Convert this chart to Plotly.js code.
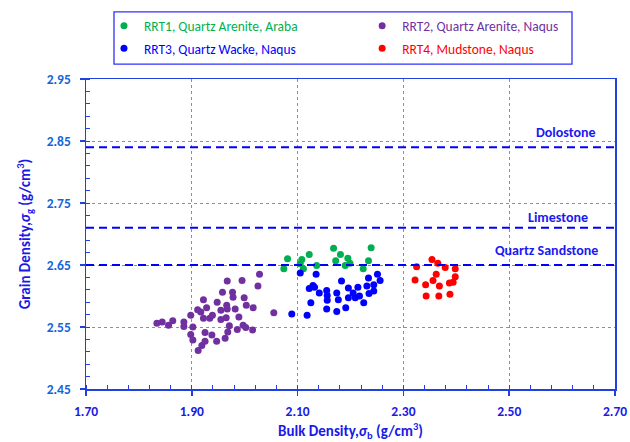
<!DOCTYPE html>
<html>
<head>
<meta charset="utf-8">
<script src="https://cdn.plot.ly/plotly-3.0.1.min.js"></script>
<style>html,body{margin:0;padding:0;background:#fff;}#chart{width:630px;height:442px;}</style>
</head>
<body>
<div id="chart"></div>
<script>
// ---- Data ----
const rrt1Name = "RRT1, Quartz Arenite, Araba";
const rrt1X = [2.074,2.081,2.108,2.105,2.111,2.122,2.136,2.168,2.181,2.172,2.195,2.190,2.199,2.224,2.234,2.239];
const rrt1Y = [2.644,2.660,2.659,2.652,2.644,2.667,2.649,2.677,2.667,2.657,2.661,2.649,2.653,2.644,2.657,2.678];

const rrt2Name = "RRT2, Quartz Arenite, Naqus";
const rrt2X = [1.834,1.844,1.856,1.864,1.885,1.885,1.898,1.902,1.898,1.902,1.912,1.919,1.925,1.925,1.938,1.947,1.963,1.968,1.971,1.986,1.997,2.002,2.015,1.922,1.911,1.917,1.928,1.922,1.934,1.939,1.948,1.955,1.955,1.965,1.966,1.967,1.958,1.967,1.977,1.978,1.982,1.989,1.995,1.999,2.003,2.016,2.025,2.028,2.055];
const rrt2Y = [2.556,2.558,2.553,2.560,2.558,2.551,2.569,2.550,2.538,2.529,2.512,2.520,2.527,2.541,2.537,2.527,2.532,2.542,2.552,2.546,2.553,2.549,2.545,2.594,2.578,2.574,2.581,2.564,2.564,2.569,2.590,2.577,2.562,2.565,2.585,2.579,2.606,2.624,2.606,2.598,2.579,2.566,2.625,2.597,2.585,2.581,2.616,2.635,2.573];

const rrt3Name = "RRT3, Quartz Wacke, Naqus";
const rrt3X = [2.105,2.135,2.122,2.129,2.132,2.141,2.125,2.089,2.118,2.155,2.156,2.156,2.155,2.174,2.177,2.174,2.183,2.196,2.196,2.191,2.205,2.209,2.214,2.217,2.225,2.231,2.234,2.244,2.251,2.256,2.235,2.244];
const rrt3Y = [2.637,2.635,2.612,2.617,2.614,2.605,2.589,2.571,2.569,2.609,2.601,2.593,2.579,2.605,2.594,2.575,2.624,2.613,2.597,2.581,2.605,2.597,2.614,2.600,2.589,2.616,2.629,2.618,2.635,2.625,2.604,2.608];

const rrt4Name = "RRT4, Mudstone, Naqus";
const rrt4X = [2.325,2.354,2.365,2.379,2.398,2.362,2.398,2.356,2.322,2.342,2.368,2.394,2.387,2.343,2.367,2.388];
const rrt4Y = [2.647,2.659,2.653,2.646,2.644,2.635,2.631,2.625,2.626,2.618,2.616,2.622,2.621,2.600,2.600,2.603];

// Reference grain densities
const refNames = ["Dolostone","Limestone","Quartz Sandstone"];
const refValues = [2.84, 2.71, 2.65];

// Axis ticks
const xTicks = [1.70,1.90,2.10,2.30,2.50,2.70];
const yTicks = [2.45,2.55,2.65,2.75,2.85,2.95];

// ---- Styling ----
const FONT = "Carlito, Calibri, Lato, 'Open Sans', sans-serif";
const colors = {rrt1:"#00b050", rrt2:"#7030a0", rrt3:"#0000ff", rrt4:"#ff0000"};
const axisBlue = "#2040e0";
const gridBlue = "#6f8fe8";

function tr(x, y, name, color, legend, group) {
  return {
    type: "scatter", mode: "markers", x: x, y: y,
    name: '<span style="color:' + color + '">' + name + '</span>',
    legend: legend, legendgroup: group,
    marker: {color: color, size: 7, line: {width: 0}},
    hoverinfo: "x+y"
  };
}

const data = [
  tr(rrt1X, rrt1Y, rrt1Name, colors.rrt1, "legend", "g1"),
  tr(rrt3X, rrt3Y, rrt3Name, colors.rrt3, "legend", "g3"),
  tr(rrt2X, rrt2Y, rrt2Name, colors.rrt2, "legend2", "g2"),
  tr(rrt4X, rrt4Y, rrt4Name, colors.rrt4, "legend2", "g4")
];

const labelPos = [[2.607, 2.863],[2.592, 2.7265],[2.570, 2.673]];

const shapes = refValues.map(v => ({
  type: "line", xref: "paper", x0: 0, x1: 1, yref: "y", y0: v, y1: v,
  line: {color: "#0000ff", width: 2, dash: "8px,5px"}, layer: "above"
}));
shapes.push({
  type: "rect", xref: "paper", yref: "paper",
  x0: 0.0529, x1: 0.9187, y0: 1.0482, y1: 1.2164,
  line: {color: "#3030ff", width: 1.3}, fillcolor: "rgba(0,0,0,0)"
});

const annotations = refNames.map((n, i) => ({
  x: labelPos[i][0], y: labelPos[i][1], xref: "x", yref: "y",
  text: "<b>" + n + "</b>", showarrow: false,
  font: {family: FONT, size: 14, color: "#1a1af0"}
}));

const legendCommon = {
  orientation: "v", xanchor: "left", yanchor: "top",
  bgcolor: "rgba(0,0,0,0)", borderwidth: 0,
  font: {family: FONT, size: 13.5, color: "#333"},
  tracegroupgap: 2, itemsizing: "trace"
};

const layout = {
  width: 630, height: 442,
  margin: {l: 86, r: 15, t: 78, b: 53},
  paper_bgcolor: "#ffffff", plot_bgcolor: "#ffffff",
  font: {family: FONT},
  showlegend: true,
  legend: Object.assign({}, legendCommon, {x: 0.034, y: 1.217}),
  legend2: Object.assign({}, legendCommon, {x: 0.522, y: 1.217}),
  xaxis: {
    range: [1.70, 2.70], tickvals: xTicks, tickformat: ".2f",
    showline: true, linecolor: axisBlue, linewidth: 1.5, mirror: true,
    ticks: "outside", ticklen: 5, tickcolor: axisBlue, tickwidth: 1.5,
    ticklabelstandoff: 4,
    tickfont: {family: FONT, size: 13.5, color: "#1a1ae6", weight: "bold"},
    showgrid: true, gridcolor: gridBlue, griddash: "dot", gridwidth: 1,
    zeroline: false,
    minor: {dtick: 0.04, tick0: 1.70, ticks: "inside", ticklen: 4, tickcolor: axisBlue, tickwidth: 1, showgrid: false},
    title: {text: "<b>Bulk Density,<i>σ</i><sub>b</sub> (g/cm<sup>3</sup>)</b>", standoff: 12,
            font: {family: FONT, size: 15, color: "#1a1ae6"}}
  },
  yaxis: {
    range: [2.45, 2.95], tickvals: yTicks, tickformat: ".2f",
    showline: true, linecolor: axisBlue, linewidth: 1.5, mirror: true,
    ticks: "outside", ticklen: 5, tickcolor: axisBlue, tickwidth: 1.5,
    ticklabelstandoff: 6,
    tickfont: {family: FONT, size: 13.5, color: "#1565d8", weight: "bold"},
    showgrid: true, gridcolor: gridBlue, griddash: "dot", gridwidth: 1,
    zeroline: false,
    minor: {dtick: 0.02, tick0: 2.45, ticks: "inside", ticklen: 4, tickcolor: axisBlue, tickwidth: 1, showgrid: false},
    title: {text: "<b>Grain Density,<i>σ</i><sub>g</sub> (g/cm<sup>3</sup>)</b>", standoff: 12,
            font: {family: FONT, size: 15, color: "#1a1ae6"}}
  },
  shapes: shapes,
  annotations: annotations
};

Plotly.newPlot("chart", data, layout, {displayModeBar: false, staticPlot: true});
</script>
</body>
</html>
